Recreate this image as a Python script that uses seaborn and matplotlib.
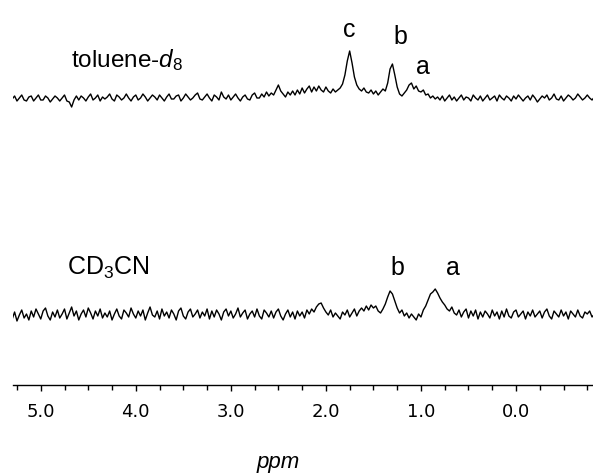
import numpy as np
import pandas as pd
import matplotlib
matplotlib.use("Agg")
import matplotlib.pyplot as plt
from matplotlib.ticker import MultipleLocator, FormatStrFormatter
import seaborn as sns

# chemical shift grid (ppm), 0.025 ppm per point, high to low
ppm = np.round(np.arange(5.300, -0.826, -0.025), 3)

# toluene-d8 trace (intensity, arbitrary units)
toluene = [
    0, 3, -2, 1, 4, -1, -2, 2, 3, -2,
    1, 4, -1, -1, 3, 1, -3, 0, 3, 1,
    -2, 1, 4, -2, -3, -8, -1, 3, -1, 3,
    1, -2, 2, 5, -1, 1, 4, -2, 2, 0,
    2, 5, 0, -2, 4, 2, -1, 1, 5, 1,
    -2, 2, 4, -1, 1, 5, 2, -2, 1, 4,
    2, -1, 4, 1, -2, 2, 5, 0, 0, 3,
    4, -2, 1, 5, 2, -1, 1, 4, 6, 0,
    -1, 2, 5, 1, -2, 4, 2, -1, 7, 2,
    0, 4, -1, 2, 5, 1, -2, 2, 4, 0,
    -1, 4, 6, 1, 1, 5, 2, 7, 3, 6,
    4, 9, 14, 8, 5, 2, 7, 4, 8, 4,
    9, 5, 11, 6, 10, 13, 7, 12, 8, 13,
    9, 7, 12, 8, 6, 10, 7, 9, 11, 15,
    24, 38, 48, 36, 22, 14, 10, 8, 11, 7,
    6, 9, 5, 8, 4, 7, 10, 8, 16, 30,
    35, 24, 12, 5, 3, 6, 9, 14, 16, 10,
    13, 8, 7, 9, 4, 5, 1, 3, 0, 2,
    -1, 3, -2, 1, 4, -1, 2, -2, 1, 4,
    -1, 2, 1, -2, 4, 1, -1, 3, -2, 1,
    4, -1, 1, 3, -2, 4, 1, -1, 3, 1,
    -2, 3, 0, 4, 1, -2, 1, 3, -1, 4,
    1, -3, 0, 3, 1, 4, -1, 1, 5, 0,
    -1, 3, -2, 1, 4, 2, -1, 1, 5, 2,
    -1, 1, 4, 1, -1, 2,
]

# CD3CN trace
cd3cn = [
    -3, 4, -5, 1, 6, -2, 2, -4, 5, -1,
    7, 2, -3, 5, 8, 0, -4, 4, -1, 6,
    -2, 2, 7, -3, 3, 9, 0, 5, -4, 2,
    6, -1, 8, 3, -3, 5, 0, 7, -2, 3,
    -1, 5, -4, 2, 7, 0, -3, 6, 3, -1,
    8, 2, -2, 5, 0, 6, -4, 3, 9, 1,
    -1, 5, -3, 7, 0, 4, -2, 6, 2, -4,
    5, 8, 0, -3, 4, 7, -1, 2, 6, -2,
    4, 0, 7, -3, 5, -1, 6, 2, -4, 4,
    7, 0, 5, -2, 2, 8, -1, 3, 6, -3,
    2, 5, -1, 7, 0, -3, 6, 3, -1, 5,
    -2, 4, 7, 0, -4, 2, 6, -1, 4, -3,
    5, 0, 4, -2, 6, 2, 7, 4, 9, 12,
    13, 8, 4, 1, 6, -1, 3, 0, -3, 4,
    1, 6, -1, 3, 7, 0, 5, 8, 5, 10,
    6, 11, 8, 10, 5, 3, 7, 12, 19, 25,
    22, 15, 8, 3, 6, 0, 3, -2, 2, -1,
    -4, 2, -1, 6, 10, 16, 22, 24, 27, 23,
    18, 14, 11, 7, 5, 9, 3, 1, 6, -1,
    4, 7, -2, 5, 0, 6, -3, 4, -1, 5,
    2, -2, 6, 0, 4, -3, 5, -1, 7, 0,
    -2, 4, 6, -1, 2, 5, -3, 4, 0, 6,
    -1, 2, 5, -2, 4, 7, 0, -3, 5, 2,
    -1, 6, 0, 4, -3, 5, 2, -1, 6, 0,
    -2, 4, 2, 5, -1, 2,
]

# peak labels: (ppm, text)
top_peaks = [(1.75, "c"), (1.22, "b"), (0.98, "a")]
bottom_peaks = [(1.25, "b"), (0.66, "a")]

sns.set_style("white")
plt.rcParams["font.family"] = ["Liberation Sans", "DejaVu Sans"]
plt.rcParams["text.color"] = "black"
plt.rcParams["mathtext.fontset"] = "custom"
plt.rcParams["mathtext.rm"] = "Liberation Sans"
plt.rcParams["mathtext.it"] = "Liberation Sans:italic"

fig = plt.figure(figsize=(5.93, 4.77), dpi=100)
ax = fig.add_axes([12.7 / 593, 91.4 / 477, 1 - 12.7 / 593, 385.6 / 477])

top_off = 285.6
bot_off = 68.6
df = pd.DataFrame({
    "ppm": np.concatenate([ppm, ppm]),
    "y": np.concatenate([np.array(toluene) + top_off, np.array(cd3cn) + bot_off]),
    "trace": ["toluene"] * len(ppm) + ["cd3cn"] * len(ppm),
})
sns.lineplot(data=df, x="ppm", y="y", units="trace", estimator=None,
             color="black", lw=1.0, ax=ax, sort=False)

ax.set_xlim(5.295, -0.81)
ax.set_ylim(0, 385.6)

for s in ["left", "top", "right"]:
    ax.spines[s].set_visible(False)
ax.spines["bottom"].set_color("black")
ax.spines["bottom"].set_linewidth(1.0)
ax.set_yticks([])
ax.set_ylabel("")
ax.set_xlabel("")

ax.xaxis.set_major_locator(MultipleLocator(1.0))
ax.xaxis.set_minor_locator(MultipleLocator(0.25))
ax.xaxis.set_major_formatter(FormatStrFormatter("%.1f"))
ax.tick_params(axis="x", which="both", direction="out", bottom=True,
               color="black", width=1.0, labelcolor="black")
ax.tick_params(axis="x", which="major", length=4.5, pad=8, labelsize=13)
ax.tick_params(axis="x", which="minor", length=3.5)
for lab in ax.get_xticklabels():
    lab.set_fontfamily("DejaVu Sans")

ax.text(4.68, 385.6 - 60, "toluene-$\\mathit{d_8}$", fontsize=17.5,
        va="center", ha="left")
ax.text(4.72, 385.6 - 268, "CD$_3$CN", fontsize=18, va="center", ha="left")

for p, t in top_peaks:
    yy = {"c": 30, "b": 37, "a": 67}[t]
    ax.text(p, 385.6 - yy, t, fontsize=18, ha="center", va="center")
for p, t in bottom_peaks:
    ax.text(p, 385.6 - 268, t, fontsize=18, ha="center", va="center")

fig.text(278 / 593, 1 - 463 / 477, "ppm", fontsize=16, style="italic",
         ha="center", va="center")

fig.savefig("out.png", dpi=100)
